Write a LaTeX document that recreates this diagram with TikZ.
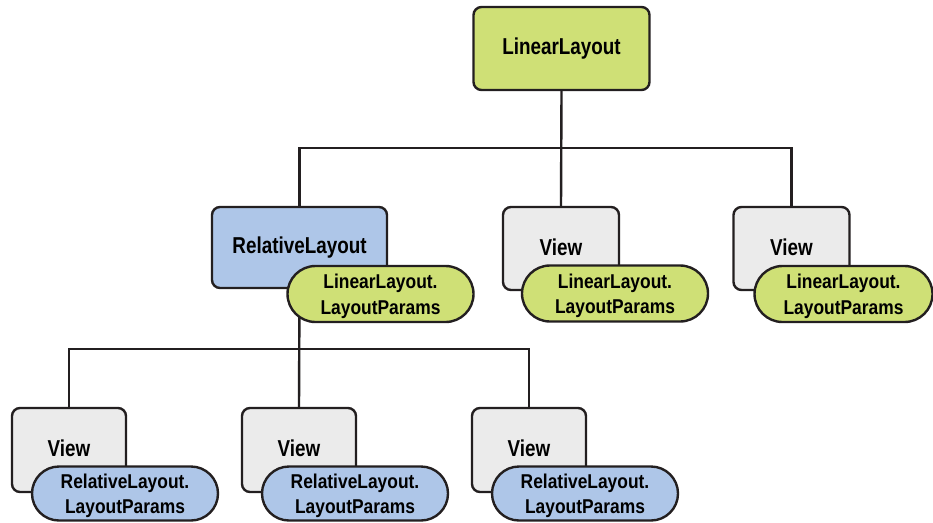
\documentclass[tikz,border=0pt]{standalone}
\usepackage{fontspec}
\newfontfamily\boxfont{Liberation Sans}[FakeStretch=0.82]
\newfontfamily\pillfont{Liberation Sans}[FakeStretch=0.87]
\usetikzlibrary{shapes.misc}
\pgfdeclarelayer{background}
\pgfsetlayers{background,main}
\definecolor{llgreen}{RGB}{207,224,118}
\definecolor{rlblue}{RGB}{174,198,232}
\definecolor{viewgrey}{RGB}{235,235,235}
\definecolor{edge}{RGB}{35,31,32}
\tikzset{
  box/.style={draw=edge, line width=2.4pt, rounded corners=8pt, inner sep=0pt},
  layoutbox/.style={box, minimum width=176pt, minimum height=83pt},
  viewbox/.style={box, fill=viewgrey, minimum width=116pt, minimum height=83pt},
  lowview/.style={viewbox, minimum width=114pt, minimum height=84pt},
  boxlabel/.style={font=\boxfont\bfseries\fontsize{23}{27}\selectfont, text=black,
    inner sep=0pt, anchor=base},
  pill/.style={rounded rectangle, draw=edge, line width=2.4pt, minimum width=186pt,
    minimum height=56pt, inner sep=0pt, align=center, text height=44pt, text depth=4pt,
    font=\pillfont\bfseries\fontsize{20}{25.5}\selectfont},
  greenpill/.style={pill, fill=llgreen},
  bluepill/.style={pill, fill=rlblue, minimum height=54pt},
  wire/.style={draw=edge, line width=2.4pt}
}
\begin{document}
\begin{tikzpicture}[x=1pt, y=-1pt]
\useasboundingbox (0,0) rectangle (933,522);
\begin{scope}
\clip (0,0) rectangle (933,522);

% boxes
\node[layoutbox, fill=llgreen] (top) at (561.5,48.5) {};
\node[layoutbox, fill=rlblue, minimum width=175pt, minimum height=81pt] (rel) at (299.5,247.5) {};
\node[viewbox] (v2) at (561,248.5) {};
\node[viewbox] (v3) at (791.5,248.5) {};
\node[lowview] (b1) at (69,450) {};
\node[lowview] (b2) at (299,450) {};
\node[lowview] (b3) at (529,450) {};

% box titles, set on a common baseline below each box top
\node[boxlabel] (topt) at ([yshift=-49pt]top.north) {LinearLayout};
\node[boxlabel] (relt) at ([yshift=-48pt]rel.north) {RelativeLayout};
\node[boxlabel] (v2t) at ([yshift=-49.5pt]v2.north) {View};
\node[boxlabel] (v3t) at ([yshift=-49.5pt]v3.north) {View};
\node[boxlabel] (b1t) at ([yshift=-50pt]b1.north) {View};
\node[boxlabel] (b2t) at ([yshift=-50pt]b2.north) {View};
\node[boxlabel] (b3t) at ([yshift=-50pt]b3.north) {View};

% layout parameter tags
\node[greenpill] (relp) at (380.5,294) {LinearLayout.\\LayoutParams};
\node[greenpill] (v2p) at (615,293.5) {LinearLayout.\\LayoutParams};
\node[greenpill, minimum width=178pt] (v3p) at (843.5,294) {LinearLayout.\\LayoutParams};
\node[bluepill] (b1p) at (125,493.5) {RelativeLayout.\\LayoutParams};
\node[bluepill] (b2p) at (355,493.5) {RelativeLayout.\\LayoutParams};
\node[bluepill] (b3p) at (585,493.5) {RelativeLayout.\\LayoutParams};

% tree connectors, behind the boxes
\coordinate (bus1) at (561,148);
\coordinate (bus2) at (299,349);
\begin{pgfonlayer}{background}
\draw[wire] (top.south) -- (v2.north);
\draw[wire] (rel.north) |- (bus1) -| (v3.north);
\draw[wire] (rel.south) -- (b2.north);
\draw[wire] (b1.north) |- (bus2) -| (b3.north);
\end{pgfonlayer}
\end{scope}
\end{tikzpicture}
\end{document}
